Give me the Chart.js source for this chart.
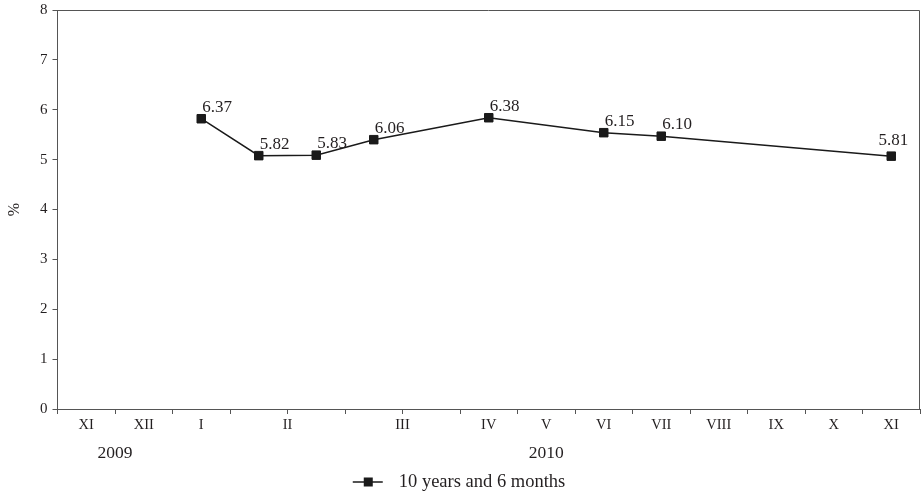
<!DOCTYPE html>
<html>
<head>
<meta charset="utf-8">
<script src="https://cdn.jsdelivr.net/npm/chart.js@4/dist/chart.umd.min.js"></script>
<style>
  html, body { margin: 0; padding: 0; background: #fff; overflow: hidden; }
  #wrap { width: 922px; height: 495px; position: relative; }
</style>
</head>
<body>
<div id="wrap"><canvas id="yieldChart"></canvas></div>
<script>
  // month of each auction slot on the axis (repeated = two auctions that month)
  const categories = ['XI', 'XII', 'I', 'II', 'II', 'III', 'III', 'IV', 'V', 'VI', 'VII', 'VIII', 'IX', 'X', 'XI'];
  const years = ['2009', '2009', '2010', '2010', '2010', '2010', '2010', '2010', '2010', '2010', '2010', '2010', '2010', '2010', '2010'];
  // plotted values (%)
  const yieldValues = [null, null, 5.82, 5.08, 5.09, 5.40, null, 5.84, null, 5.54, 5.47, null, null, null, 5.07];
  // printed labels next to the markers
  const yieldLabels = [null, null, '6.37', '5.82', '5.83', '6.06', null, '6.38', null, '6.15', '6.10', null, null, null, '5.81'];
  const seriesName = '10 years and 6 months';

  const FONT = '"Liberation Serif", "Times New Roman", serif';
  const TEXT = '#231f20';
  const AXIS = '#555555';

  // group consecutive equal labels -> [{text, from, to}]
  function groups(arr) {
    const out = [];
    arr.forEach((t, i) => {
      const last = out[out.length - 1];
      if (last && last.text === t) last.to = i;
      else out.push({ text: t, from: i, to: i });
    });
    return out;
  }

  const extras = {
    id: 'extras',
    afterDraw(chart) {
      const ctx = chart.ctx;
      const area = chart.chartArea;
      const xs = chart.scales.x;
      ctx.save();

      // frame top & right
      ctx.strokeStyle = AXIS;
      ctx.lineWidth = 1;
      ctx.beginPath();
      ctx.moveTo(area.left, area.top + 0.5);
      ctx.lineTo(area.right - 0.5, area.top + 0.5);
      ctx.lineTo(area.right - 0.5, area.bottom);
      ctx.stroke();

      ctx.fillStyle = TEXT;
      ctx.textAlign = 'center';
      ctx.textBaseline = 'middle';

      // month labels
      ctx.font = '14.5px ' + FONT;
      groups(categories).forEach(g => {
        const x = (xs.getPixelForValue(g.from) + xs.getPixelForValue(g.to)) / 2;
        ctx.fillText(g.text, x, area.bottom + 16);
      });

      // year labels
      ctx.font = '17.5px ' + FONT;
      groups(years).forEach(g => {
        const x = (xs.getPixelForValue(g.from) + xs.getPixelForValue(g.to)) / 2;
        ctx.fillText(g.text, x, area.bottom + 44);
      });

      // value labels (above-right, or centred above if it would run off the plot)
      ctx.font = '17px ' + FONT;
      ctx.textBaseline = 'alphabetic';
      const meta = chart.getDatasetMeta(0);
      meta.data.forEach((pt, i) => {
        if (yieldLabels[i] == null || yieldValues[i] == null) return;
        const w = ctx.measureText(yieldLabels[i]).width;
        if (pt.x + 1 + w > area.right - 6) {
          ctx.textAlign = 'center';
          ctx.fillText(yieldLabels[i], pt.x + 2, pt.y - 11);
        } else {
          ctx.textAlign = 'left';
          ctx.fillText(yieldLabels[i], pt.x + 1, pt.y - 7);
        }
      });

      // legend
      ctx.font = '18.5px ' + FONT;
      ctx.textAlign = 'left';
      const tw = ctx.measureText(seriesName).width;
      const total = 46 + tw;
      const lx = chart.width / 2 - total / 2 - 2;
      const ly = chart.height - 13;
      ctx.strokeStyle = '#1a1a1a';
      ctx.lineWidth = 1.5;
      ctx.beginPath();
      ctx.moveTo(lx, ly);
      ctx.lineTo(lx + 30, ly);
      ctx.stroke();
      ctx.fillStyle = '#1a1a1a';
      ctx.fillRect(lx + 11, ly - 4.5, 9, 9);
      ctx.fillStyle = TEXT;
      ctx.textBaseline = 'middle';
      ctx.fillText(seriesName, lx + 46, ly);

      ctx.restore();
    }
  };

  new Chart(document.getElementById('yieldChart'), {
    type: 'line',
    data: {
      labels: categories,
      datasets: [{
        label: seriesName,
        data: yieldValues,
        borderColor: '#1a1a1a',
        borderWidth: 1.5,
        backgroundColor: '#1a1a1a',
        pointStyle: 'rect',
        pointRadius: 6,
        pointBorderWidth: 1,
        pointBorderColor: '#1a1a1a',
        pointBackgroundColor: '#1a1a1a',
        spanGaps: true,
        tension: 0,
        fill: false
      }]
    },
    options: {
      responsive: true,
      maintainAspectRatio: false,
      animation: false,
      layout: { autoPadding: false, padding: { top: 10, right: 2, left: 0, bottom: 0 } },
      plugins: {
        legend: { display: false },
        tooltip: { enabled: false }
      },
      scales: {
        x: {
          type: 'category',
          offset: true,
          grid: {
            offset: true,
            drawOnChartArea: false,
            drawTicks: true,
            tickLength: 5,
            color: AXIS
          },
          border: { display: true, color: AXIS, width: 1 },
          ticks: { autoSkip: false, maxRotation: 0, callback: () => '' },
          afterFit: s => { s.height = 86; s.paddingLeft = 0; s.paddingRight = 0; }
        },
        y: {
          min: 0,
          max: 8,
          grid: {
            drawOnChartArea: false,
            drawTicks: true,
            tickLength: 5,
            color: AXIS
          },
          border: { display: true, color: AXIS, width: 1 },
          ticks: {
            stepSize: 1,
            padding: 5,
            color: TEXT,
            font: { family: FONT, size: 15 }
          },
          title: {
            display: true,
            text: '%',
            color: TEXT,
            font: { family: FONT, size: 16 },
            padding: { top: 5, bottom: 0 }
          },
          afterFit: s => { s.width = 57.5; s.paddingTop = 0; s.paddingBottom = 0; }
        }
      }
    },
    plugins: [extras]
  });
</script>
</body>
</html>
